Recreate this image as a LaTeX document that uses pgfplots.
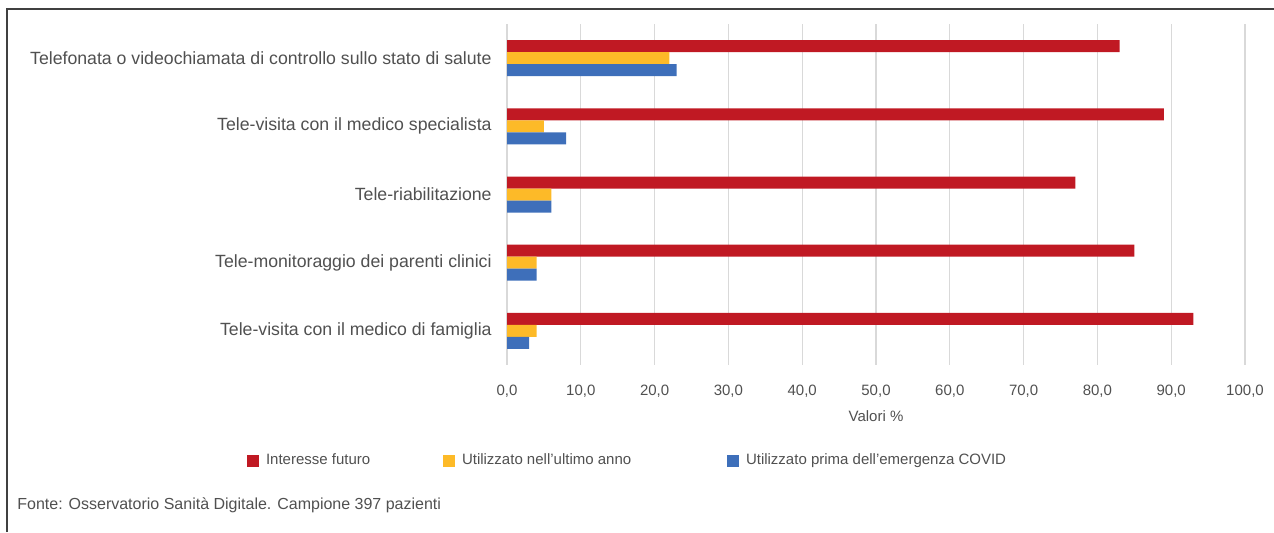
\documentclass[border=0pt]{standalone}
\usepackage{pgfplots}
\pgfplotsset{compat=1.18}
\usepackage{fontspec}
\setmainfont{Liberation Sans}

\definecolor{cRed}{RGB}{192,25,35}
\definecolor{cYellow}{RGB}{253,186,40}
\definecolor{cBlue}{RGB}{62,111,186}
\definecolor{txt}{RGB}{80,80,80}

\begin{document}
\begin{tikzpicture}
  \useasboundingbox (0pt,0pt) rectangle (637pt,-266pt);
  % frame lines
  \draw[line width=1pt, black!75] (3.5pt,-266pt) -- (3.5pt,-4.5pt) -- (637pt,-4.5pt);

  \begin{axis}[
    at={(253.5pt,-12pt)}, anchor=north west,
    scale only axis,
    width=369pt, height=170.5pt,
    xbar=0pt, bar width=6pt,
    xmin=0, xmax=100,
    ymin=-0.5, ymax=4.5,
    y dir=reverse,
    xtick={0,10,...,100},
    ytick={0,1,2,3,4},
    yticklabels={
      Telefonata o videochiamata di controllo sullo stato di salute,
      Tele-visita con il medico specialista,
      Tele-riabilitazione,
      Tele-monitoraggio dei parenti clinici,
      Tele-visita con il medico di famiglia},
    axis line style={draw=none},
    major tick length=0pt,
    xmajorgrids, grid style={black!15, line width=0.6pt},
    /pgf/number format/.cd, fixed, fixed zerofill, precision=1, use comma, assume math mode=true,
    /pgfplots/.cd,
    xticklabel style={font=\fontsize{7.5}{9}\selectfont, text=txt, inner sep=0pt, anchor=north, yshift=-9.8pt},
    yticklabel style={font=\fontsize{8.85}{10}\selectfont, text=txt, inner sep=0pt, anchor=east, xshift=-7.5pt},
    xlabel={Valori \%},
    xlabel style={font=\fontsize{7.5}{9}\selectfont, text=txt, at={(axis description cs:0.5,-0.1496)}, anchor=center},
    legend columns=3,
    legend image code/.code={\fill[#1] (0pt,-3pt) rectangle (6pt,3pt);},
    legend style={draw=none, fill=none, inner sep=0pt, outer sep=0pt,
      at={(axis description cs:-0.3523,-0.2815)}, anchor=west,
      font=\fontsize{7.5}{9}\selectfont, text=txt,
      nodes={inner xsep=0pt, inner ysep=0pt},
      /tikz/every odd column/.append style={column sep=3.5pt}},
  ]
    \addplot[fill=cRed, draw=none, bar shift=6pt] coordinates {(83,0) (89,1) (77,2) (85,3) (93,4)};
    \addlegendentry{\makebox[88.5pt][l]{Interesse futuro}}
    \addplot[fill=cYellow, draw=none, bar shift=0pt] coordinates {(22,0) (5,1) (6,2) (4,3) (4,4)};
    \addlegendentry{\makebox[132.5pt][l]{Utilizzato nell'ultimo anno}}
    \addplot[fill=cBlue, draw=none, bar shift=-6pt] coordinates {(23,0) (8,1) (6,2) (4,3) (3,4)};
    \addlegendentry{Utilizzato prima dell'emergenza COVID}
  \end{axis}

  \node[anchor=west, inner sep=0pt, text=txt, font=\fontsize{8}{9.5}\selectfont] at (8.5pt,-252.5pt)
    {Fonte: Osservatorio Sanità Digitale. Campione 397 pazienti};
\end{tikzpicture}
\end{document}
